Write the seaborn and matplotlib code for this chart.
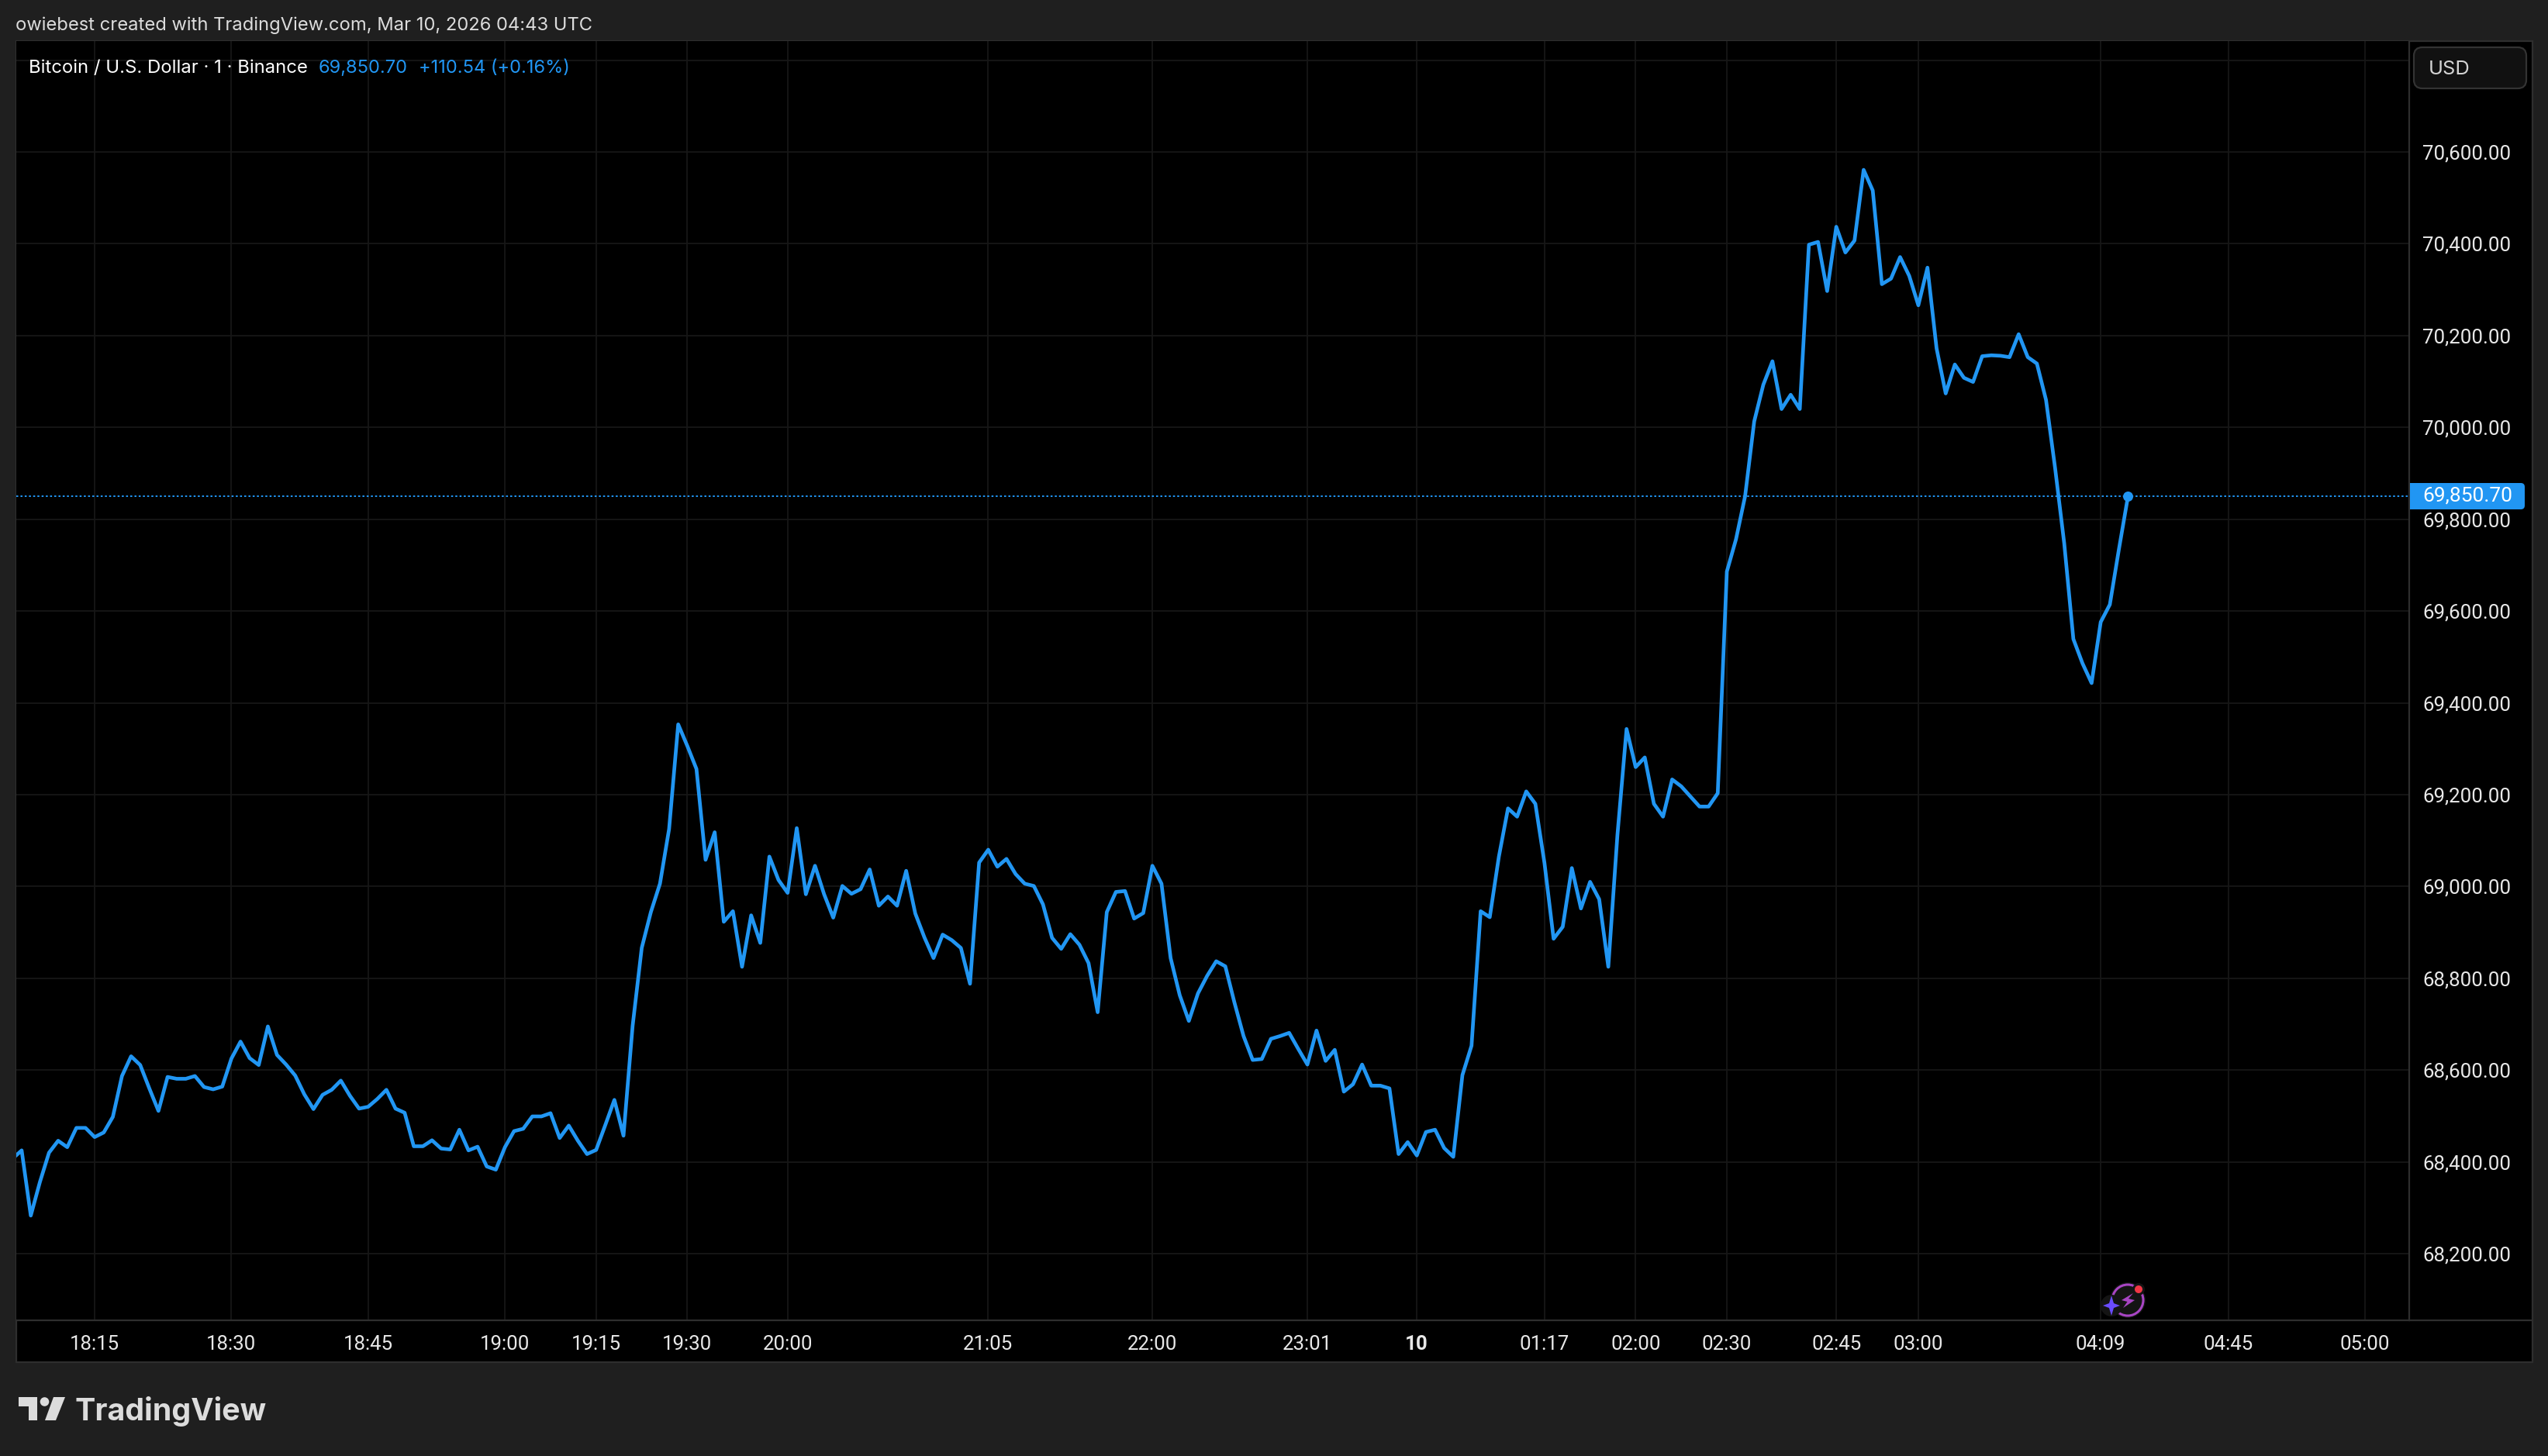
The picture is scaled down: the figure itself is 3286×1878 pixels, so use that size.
import numpy as np
import pandas as pd
import matplotlib
matplotlib.use("Agg")
import matplotlib.pyplot as plt
import seaborn as sns
from matplotlib.patches import Rectangle, FancyBboxPatch, Polygon, Circle
from matplotlib.lines import Line2D

# closing price per bar
price = [
    68407, 68425, 68283, 68356, 68420, 68446, 68432, 68474, 68474, 68454,
    68464, 68498, 68587, 68630, 68611, 68560, 68511, 68585, 68581, 68581,
    68587, 68563, 68558, 68564, 68625, 68662, 68626, 68611, 68695, 68633,
    68612, 68588, 68547, 68515, 68546, 68557, 68577, 68544, 68516, 68520,
    68537, 68557, 68516, 68507, 68434, 68434, 68447, 68429, 68427, 68470,
    68425, 68433, 68390, 68383, 68432, 68467, 68472, 68499, 68499, 68506,
    68452, 68479, 68446, 68417, 68426, 68480, 68535, 68457, 68696, 68866,
    68944, 69006, 69125, 69353, 69306, 69256, 69058, 69118, 68923, 68946,
    68825, 68937, 68877, 69065, 69014, 68986, 69127, 68983, 69045, 68983,
    68932, 69001, 68984, 68994, 69037, 68958, 68978, 68958, 69034, 68941,
    68889, 68844, 68895, 68883, 68866, 68788, 69052, 69080, 69043, 69060,
    69027, 69006, 69001, 68961, 68888, 68864, 68896, 68873, 68833, 68726,
    68944, 68988, 68990, 68930, 68942, 69045, 69006, 68844, 68763, 68707,
    68767, 68805, 68837, 68826, 68747, 68674, 68622, 68624, 68668, 68674,
    68681, 68646, 68612, 68686, 68620, 68644, 68553, 68569, 68612, 68566,
    68566, 68560, 68417, 68443, 68414, 68465, 68470, 68430, 68411, 68589,
    68653, 68946, 68933, 69065, 69170, 69152, 69207, 69180, 69051, 68886,
    68912, 69040, 68952, 69010, 68972, 68825, 69112, 69343, 69260, 69281,
    69180, 69152, 69233, 69218, 69196, 69174, 69174, 69203, 69686, 69756,
    69850, 70013, 70093, 70144, 70040, 70071, 70040, 70398, 70404, 70297,
    70437, 70381, 70407, 70561, 70516, 70312, 70324, 70371, 70330, 70266,
    70348, 70172, 70074, 70137, 70108, 70099, 70155, 70157, 70156, 70153,
    70203, 70153, 70139, 70060, 69911, 69747, 69539, 69486, 69443, 69576,
    69614, 69735, 69850.70,
]
last_price = price[-1]

time_ticks = [9, 24, 39, 54, 64, 74, 85, 107, 125, 142, 154, 168, 178, 188, 200, 209, 229, 243, 258]
time_labels = ["18:15", "18:30", "18:45", "19:00", "19:15", "19:30", "20:00", "21:05", "22:00", "23:01",
               "10", "01:17", "02:00", "02:30", "02:45", "03:00", "04:09", "04:45", "05:00"]
price_ticks = [68200, 68400, 68600, 68800, 69000, 69200, 69400, 69600, 69800, 70000, 70200, 70400, 70600, 70800]
price_labels = ["68,200.00", "68,400.00", "68,600.00", "68,800.00", "69,000.00", "69,200.00", "69,400.00",
                "69,600.00", "69,800.00", "70,000.00", "70,200.00", "70,400.00", "70,600.00", ""]

W, H = 3286, 1878
BG = "#1f1f1f"
BORDER = "#2e2e2e"
GRID = "#171717"
BLUE = "#2196f3"
TXT = "#e8e8e8"

sns.set_theme(style="dark")
plt.rcParams["font.family"] = ["Inter", "DejaVu Sans"]

df = pd.DataFrame({"bar": np.arange(len(price)), "price": price})


def fx(px):
    return px / W


def fy(py):
    return 1 - py / H


fig = plt.figure(figsize=(W / 200, H / 200), dpi=200, facecolor=BG)

# black panel behind plot and both scales
fig.add_artist(Rectangle((fx(21), fy(1757)), fx(3266) - fx(21), fy(53) - fy(1757), transform=fig.transFigure,
                         facecolor="black", edgecolor=BORDER, lw=0.8, zorder=-5))

ax = fig.add_axes([fx(21), fy(1703), fx(3107) - fx(21), fy(53) - fy(1703)], zorder=1)
ax.set_facecolor("black")

sns.lineplot(data=df, x="bar", y="price", ax=ax, color=BLUE, lw=1.7, estimator=None, zorder=3)
sns.scatterplot(data=df.tail(1), x="bar", y="price", ax=ax, color=BLUE, s=22, linewidth=0, zorder=4)
ax.axhline(last_price, color=BLUE, lw=0.7, ls=(0, (1.3, 1.5)), zorder=2)

ax.set_xlim(0.41, 262.83)
ax.set_ylim(68054.8, 70841.5)
ax.set_xticks(time_ticks, time_labels, family="Roboto")
ax.set_yticks(price_ticks, price_labels, family="Roboto")
ax.yaxis.tick_right()
ax.set_xlabel("")
ax.set_ylabel("")
ax.grid(True, color=GRID, lw=0.65)
ax.tick_params(axis="x", length=0, pad=7, labelsize=9.3, labelcolor=TXT)
ax.tick_params(axis="y", length=0, pad=6.2, labelsize=9.3, labelcolor=TXT, right=False)
ax.get_xticklabels()[time_labels.index("10")].set_fontweight("bold")
for side in ax.spines:
    ax.spines[side].set_color(BORDER)
    ax.spines[side].set_linewidth(0.8)
ax.spines["top"].set_visible(False)
ax.spines["left"].set_visible(False)

# bottom scale line runs on under the price scale
fig.add_artist(Line2D([fx(3107), fx(3266)], [fy(1703), fy(1703)], transform=fig.transFigure, color=BORDER, lw=0.8, zorder=2))

# header and legend
fig.text(fx(20), fy(33), "owiebest created with TradingView.com, Mar 10, 2026 04:43 UTC",
         color="#dcdcdc", fontsize=8.55, va="center", zorder=5)
fig.text(fx(37), fy(88), "Bitcoin / U.S. Dollar · 1 · Binance", color="white", fontsize=8.6, va="center", zorder=5)
fig.text(fx(411), fy(88), "69,850.70", color=BLUE, fontsize=8.5, va="center", zorder=5)
fig.text(fx(540), fy(88), "+110.54 (+0.16%)", color=BLUE, fontsize=8.5, va="center", zorder=5)

# USD button
btn = FancyBboxPatch((3123, H - 104), 125, 33, boxstyle="round,pad=10,rounding_size=11",
                     transform=None, facecolor="#111111", edgecolor="#333333", lw=0.8, zorder=4)
fig.add_artist(btn)
fig.text(fx(3132), fy(90), "USD", color="#d4d4d4", fontsize=9.2, va="center", zorder=5)

# last price tag
fig.add_artist(FancyBboxPatch((3112, H - 653), 140, 26, boxstyle="round,pad=4,rounding_size=5",
                              transform=None, facecolor=BLUE, edgecolor="none", zorder=4))
fig.add_artist(Rectangle((fx(3108), fy(657)), fx(20), fy(623) - fy(657), transform=fig.transFigure,
                         facecolor=BLUE, edgecolor="none", zorder=4))
fig.text(fx(3124), fy(640), "69,850.70", color="white", fontsize=9.5, family="Roboto", va="center", zorder=5)

# TradingView logo
logo = "#dcdcdc"
fig.add_artist(Polygon([(24, H - 1802), (48, H - 1802), (48, H - 1832), (37, H - 1832), (37, H - 1814), (24, H - 1814)],
                       transform=None, facecolor=logo, edgecolor="none", zorder=5))
fig.add_artist(Circle((57.5, H - 1808), 5.8, transform=None, facecolor=logo, edgecolor="none", zorder=5))
fig.add_artist(Polygon([(69, H - 1802), (84, H - 1802), (72, H - 1832), (58, H - 1832)],
                       transform=None, facecolor=logo, edgecolor="none", zorder=5))
fig.text(fx(97), fy(1832), "TradingView", color=logo, fontsize=14.2, fontweight="bold", va="baseline", zorder=5)

# news badge under the last bar
cx, cy = 2744, H - 1677
fig.add_artist(Circle((cx, cy), 23, transform=None, facecolor="#141414", edgecolor="none", zorder=5))
fig.add_artist(Circle((cx, cy), 20, transform=None, facecolor="none", edgecolor="#a845c4", lw=1.1, zorder=6))
fig.add_artist(Polygon([(2751, H - 1668), (2736, H - 1677), (2743.5, H - 1679), (2738, H - 1687), (2753, H - 1677), (2745, H - 1675)],
                       transform=None, facecolor="#a845c4", edgecolor="none", zorder=6))
fig.add_artist(Circle((2758, H - 1663), 8, transform=None, facecolor="#141414", edgecolor="none", zorder=6))
fig.add_artist(Circle((2758, H - 1663), 5, transform=None, facecolor="#f23645", edgecolor="none", zorder=7))
sx, sy = 2723, H - 1684
fig.add_artist(Circle((sx, sy), 14, transform=None, facecolor="#141414", edgecolor="none", zorder=6))
fig.add_artist(Polygon([(sx, sy + 13), (sx + 3, sy + 3), (sx + 11, sy), (sx + 3, sy - 3), (sx, sy - 13), (sx - 3, sy - 3), (sx - 11, sy), (sx - 3, sy + 3)],
                       transform=None, facecolor="#6a4cff", edgecolor="none", zorder=7))

fig.savefig("out.png", dpi=200, facecolor=BG)
